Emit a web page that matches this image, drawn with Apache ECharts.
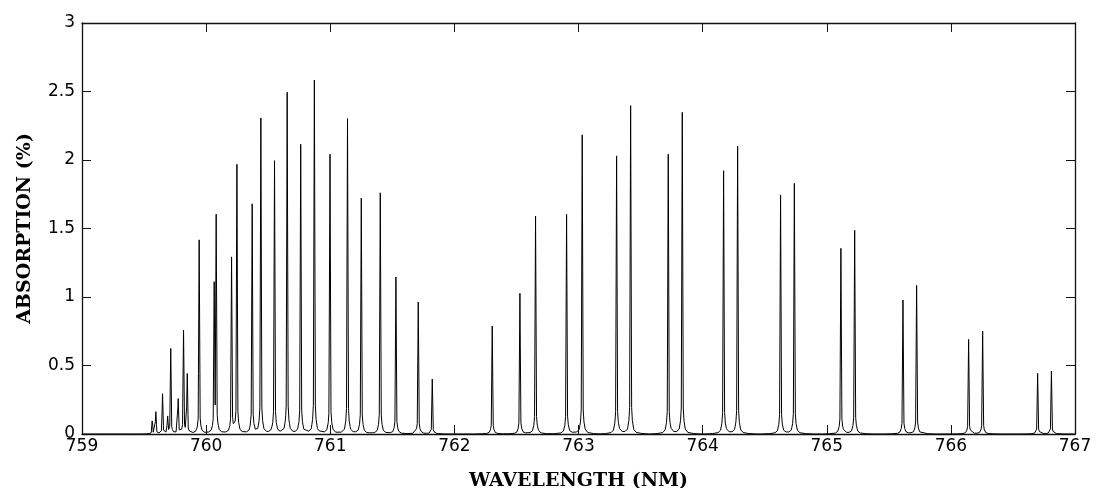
<!DOCTYPE html>
<html>
<head>
<meta charset="utf-8">
<script src="https://cdn.jsdelivr.net/npm/echarts@6/dist/echarts.min.js"></script>
<style>
  html, body { margin: 0; padding: 0; background: #fff; }
  #chart { width: 1095px; height: 488px; }
</style>
</head>
<body>
<div id="chart"></div>
<script>
// O2 A-band absorption lines: centre wavelength (nm) and peak absorption (%)
const lineCenters = [
  759.566, 759.595, 759.649, 759.690, 759.715, 759.775, 759.818, 759.848,
  759.944, 760.065, 760.081, 760.205, 760.248, 760.371, 760.441, 760.551,
  760.653, 760.762, 760.872, 760.998, 761.139, 761.250, 761.403, 761.529,
  761.709, 761.822, 762.305, 762.528, 762.654, 762.904, 763.030, 763.307,
  763.420, 763.723, 763.836, 764.169, 764.282, 764.628, 764.739, 765.114,
  765.225, 765.614, 765.724, 766.143, 766.256, 766.699, 766.810
];
const linePeaks = [
  0.105, 0.16, 0.29, 0.12, 0.62, 0.25, 0.75, 0.43,
  1.415, 1.055, 1.566, 1.28, 1.96, 1.672, 2.30, 1.99,
  2.49, 2.11, 2.58, 2.04, 2.30, 1.72, 1.76, 1.145,
  0.963, 0.40, 0.788, 1.026, 1.59, 1.602, 2.183, 2.028,
  2.395, 2.04, 2.346, 1.92, 2.10, 1.743, 1.828, 1.354,
  1.486, 0.977, 1.084, 0.69, 0.751, 0.443, 0.459
];
// Line shape: distance from centre (nm) and fraction of the peak value
const shapeOffsets = [0, 0.008, 0.014, 0.025, 0.045, 0.09, 0.15];
const shapeLevels  = [1, 0.08, 0.04, 0.014, 0.005, 0.0015, 0];

const xTicks = { min: 759, max: 767, step: 1 };
const yTicks = { min: 0, max: 3, step: 0.5 };

function shapeAt(d) {
  d = Math.abs(d);
  const n = shapeOffsets.length;
  if (d >= shapeOffsets[n - 1]) return 0;
  for (let i = 1; i < n; i++) {
    if (d <= shapeOffsets[i]) {
      const t = (d - shapeOffsets[i - 1]) / (shapeOffsets[i] - shapeOffsets[i - 1]);
      return shapeLevels[i - 1] + t * (shapeLevels[i] - shapeLevels[i - 1]);
    }
  }
  return 0;
}

// Knots of every line's shape, merged into one sorted spectrum
const xs = [xTicks.min, xTicks.max];
lineCenters.forEach(c => {
  shapeOffsets.forEach(o => { xs.push(c - o); xs.push(c + o); });
});
xs.sort((a, b) => a - b);
const spectrum = [];
let last = -Infinity;
xs.forEach(x => {
  if (x - last < 1e-7) return;
  last = x;
  let y = 0;
  lineCenters.forEach((c, i) => { y += linePeaks[i] * shapeAt(x - c); });
  spectrum.push([x, y]);
});

const tickFont = { fontFamily: 'DejaVu Sans', fontSize: 17, color: '#000' };
const nameFont = { fontFamily: 'DejaVu Serif', fontWeight: 'bold', fontSize: 19, color: '#000' };
const frameLine = { lineStyle: { color: '#111', width: 1.3 } };
const innerTick = { inside: true, length: 9, lineStyle: { color: '#111', width: 1 } };

const chart = echarts.init(document.getElementById('chart'), null, { renderer: 'canvas' });
chart.setOption({
  animation: false,
  backgroundColor: '#fff',
  grid: { left: 82, right: 20, top: 23, bottom: 54, containLabel: false, outerBoundsMode: 'none' },
  xAxis: [
    {
      type: 'value', position: 'bottom',
      min: xTicks.min, max: xTicks.max, interval: xTicks.step,
      name: 'WAVELENGTH (NM)', nameLocation: 'middle', nameGap: 38,
      nameTextStyle: nameFont,
      axisLine: Object.assign({ onZero: false }, frameLine),
      axisTick: innerTick,
      axisLabel: Object.assign({ margin: 4 }, tickFont),
      splitLine: { show: false }
    },
    {
      type: 'value', position: 'top',
      min: xTicks.min, max: xTicks.max, interval: xTicks.step,
      axisLine: Object.assign({ onZero: false }, frameLine),
      axisTick: innerTick,
      axisLabel: { show: false },
      splitLine: { show: false }
    }
  ],
  yAxis: [
    {
      type: 'value', position: 'left',
      min: yTicks.min, max: yTicks.max, interval: yTicks.step,
      name: 'ABSORPTION (%)', nameLocation: 'middle', nameGap: 47, nameRotate: 90,
      nameTextStyle: nameFont,
      axisLine: Object.assign({ show: true, onZero: false }, frameLine),
      axisTick: Object.assign({ show: true }, innerTick),
      axisLabel: Object.assign({ margin: 7 }, tickFont),
      splitLine: { show: false }
    },
    {
      type: 'value', position: 'right',
      min: yTicks.min, max: yTicks.max, interval: yTicks.step,
      axisLine: Object.assign({ show: true, onZero: false }, frameLine),
      axisTick: Object.assign({ show: true }, innerTick),
      axisLabel: { show: false },
      splitLine: { show: false }
    }
  ],
  series: [{
    type: 'line',
    data: spectrum,
    xAxisIndex: 0, yAxisIndex: 0,
    showSymbol: false,
    symbol: 'none',
    lineStyle: { color: '#000', width: 1 },
    z: 1
  }]
});
</script>
</body>
</html>
